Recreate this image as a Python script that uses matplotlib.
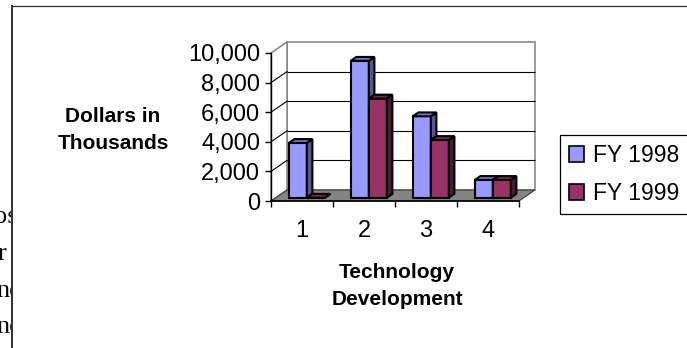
import matplotlib
matplotlib.use('Agg')
import matplotlib.pyplot as plt
from matplotlib.patches import Polygon, Rectangle, Patch
from matplotlib.lines import Line2D
import matplotlib.ticker as mticker

# ---------------- data ----------------
categories = ['1', '2', '3', '4']
fy1998 = [3700, 9250, 5500, 1200]
fy1999 = [0, 6700, 3900, 1200]
series_names = ['FY 1998', 'FY 1999']
y_ticks = [0, 2000, 4000, 6000, 8000, 10000]
y_title = ['Dollars in', 'Thousands']
x_title = ['Technology', 'Development']
fragments = ['os', 'r', 'nc', 'nc']

# ---------------- style ----------------
plt.rcParams['font.family'] = ['Liberation Sans', 'DejaVu Sans']
W, H, DPI = 687, 348, 100
fig = plt.figure(figsize=(W / DPI, H / DPI), dpi=DPI)
fig.patch.set_facecolor('white')

def fx(px):
    return px / W

def fy(py):
    return 1 - py / H

PT = 72.0 / DPI  # points per pixel

# clipped document text behind the chart frame
frag_x = [-6, -2, -4, -4]
frag_base = [223, 260, 297, 333]
for s, x0, b in zip(fragments, frag_x, frag_base):
    fig.text(fx(x0), fy(b), s, family='Liberation Serif', fontsize=19,
             ha='left', va='baseline', zorder=0.5)

# white chart area covering the document text
fig.patches.append(Rectangle((fx(12), 0), 1 - fx(12), fy(6),
                             transform=fig.transFigure, facecolor='white',
                             edgecolor='none', zorder=1))
fig.lines.append(Line2D([fx(12), fx(12)], [0, fy(6)], transform=fig.transFigure,
                        color='#333333', lw=2 * PT, zorder=1.1))
fig.lines.append(Line2D([fx(12), 1], [fy(6), fy(6)], transform=fig.transFigure,
                        color='#333333', lw=1.3 * PT, zorder=1.1))

# ---------------- axes (front plane) ----------------
left_px, right_px, bot_px, top_px = 271, 519, 201, 53
ax = fig.add_axes([fx(left_px), fy(bot_px), (right_px - left_px) / W,
                   (bot_px - top_px) / H], zorder=2)
ax.set_xlim(0.5, len(categories) + 0.5)
ax.set_ylim(y_ticks[0], y_ticks[-1])
ax.patch.set_visible(False)

# depth vector (pixels) converted to data units
px_per_x = (right_px - left_px) / (len(categories))
px_per_y = (bot_px - top_px) / (y_ticks[-1] - y_ticks[0])
DX = 16 / px_per_x
DY = 11 / px_per_y
x0, x1 = 0.5, len(categories) + 0.5
ymax = y_ticks[-1]

wall_gray = '#808080'
# back wall
ax.add_patch(Polygon([(x0 + DX, DY), (x1 + DX, DY), (x1 + DX, ymax + DY), (x0 + DX, ymax + DY)],
                     closed=True, facecolor='white', edgecolor=wall_gray, lw=1.5 * PT,
                     clip_on=False, zorder=1))
# side wall
ax.add_patch(Polygon([(x0, 0), (x0 + DX, DY), (x0 + DX, ymax + DY), (x0, ymax)],
                     closed=True, facecolor='white', edgecolor=wall_gray, lw=1.5 * PT,
                     clip_on=False, zorder=1))
# gridlines
for t in y_ticks[1:-1]:
    ax.plot([x0 + DX, x1 + DX], [t + DY, t + DY], color='black', lw=1.1 * PT,
            clip_on=False, zorder=1.5, solid_capstyle='butt')
    ax.plot([x0, x0 + DX], [t, t + DY], color='black', lw=1.1 * PT,
            clip_on=False, zorder=1.5)
# floor
ax.add_patch(Polygon([(x0, 0), (x1, 0), (x1 + DX, DY), (x0 + DX, DY)],
                     closed=True, facecolor='#848484', edgecolor='#333333', lw=1.0 * PT,
                     clip_on=False, zorder=1.8))

# ---------------- bars ----------------
series = [fy1998, fy1999]
fronts = ['#9999FF', '#993366']
sides = ['#55558F', '#4F1A35']
tops = ['#7676C4', '#76284F']
bw = 18 / px_per_x
f, b = 0.30, 0.65
edge_lw = 1.5
z = 3.0
for i in range(len(categories)):
    xc = i + 1
    for s, vals in enumerate(series):
        v = vals[i]
        l = xc - bw + s * bw
        r = l + bw
        ax.bar([l + f * DX], [v], width=bw, bottom=f * DY, align='edge',
               facecolor=fronts[s], edgecolor='black', lw=edge_lw,
               clip_on=False, zorder=z)
        side = Polygon([(r + f * DX, f * DY), (r + b * DX, b * DY),
                        (r + b * DX, v + b * DY), (r + f * DX, v + f * DY)],
                       closed=True, facecolor=sides[s], edgecolor='black', lw=edge_lw,
                       clip_on=False, zorder=z + 0.01, joinstyle='miter')
        top = Polygon([(l + f * DX, v + f * DY), (r + f * DX, v + f * DY),
                       (r + b * DX, v + b * DY), (l + b * DX, v + b * DY)],
                      closed=True, facecolor=tops[s], edgecolor='black', lw=edge_lw,
                      clip_on=False, zorder=z + 0.02, joinstyle='miter')
        ax.add_patch(side)
        ax.add_patch(top)
        z += 0.1

# ---------------- axes decoration ----------------
for sp in ['top', 'right']:
    ax.spines[sp].set_visible(False)
ax.spines['left'].set_color('black')
ax.spines['left'].set_linewidth(1.0)
ax.spines['bottom'].set_color('black')
ax.spines['bottom'].set_linewidth(1.2)
ax.spines['left'].set_zorder(2)
ax.spines['bottom'].set_zorder(2)

ax.set_yticks(y_ticks)
ax.yaxis.set_major_formatter(mticker.StrMethodFormatter('{x:,.0f}'))
ax.tick_params(axis='y', direction='out', length=6 * PT, width=1.0, pad=5 * PT,
               labelsize=17, colors='black')

ax.set_xticks([x0 + k for k in range(len(categories) + 1)])
ax.set_xticklabels([''] * (len(categories) + 1))
ax.set_xticks(list(range(1, len(categories) + 1)), minor=True)
ax.set_xticklabels(categories, minor=True)
ax.tick_params(axis='x', which='major', direction='out', length=6 * PT, width=1.0)
ax.tick_params(axis='x', which='minor', length=0, pad=19 * PT, labelsize=17)

# axis titles
fig.text(fx(113), fy(122), y_title[0], fontsize=15, fontweight='bold',
         ha='center', va='baseline', zorder=3)
fig.text(fx(113), fy(149), y_title[1], fontsize=15, fontweight='bold',
         ha='center', va='baseline', zorder=3)
fig.text(fx(397), fy(278), x_title[0], fontsize=15, fontweight='bold',
         ha='center', va='baseline', zorder=3)
fig.text(fx(397), fy(305), x_title[1], fontsize=15, fontweight='bold',
         ha='center', va='baseline', zorder=3)

# legend
handles = [Patch(facecolor=fronts[k], edgecolor='black', lw=1.2) for k in range(2)]
leg = ax.legend(handles, series_names, loc='upper left',
                bbox_to_anchor=(fx(560), fy(135)), bbox_transform=fig.transFigure,
                borderaxespad=0, frameon=True, fancybox=False, framealpha=1,
                edgecolor='black', prop={'size': 16.5}, handlelength=0.65,
                handleheight=0.7, handletextpad=0.4, borderpad=0.4,
                labelspacing=0.65)
leg.get_frame().set_linewidth(0.9)
leg.set_zorder(10)

fig.savefig('out.png', dpi=DPI)
